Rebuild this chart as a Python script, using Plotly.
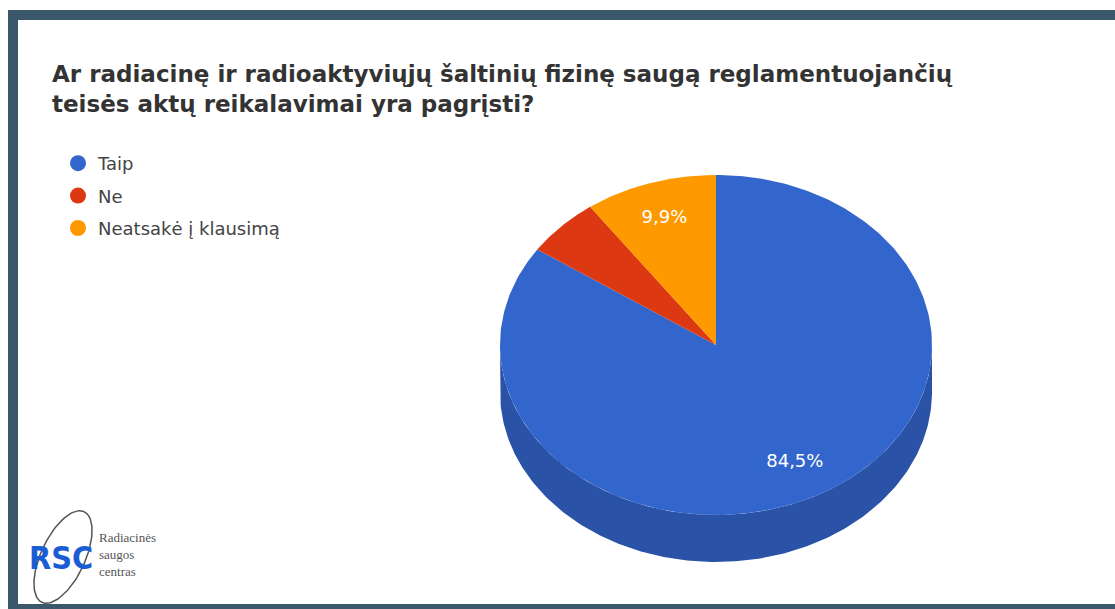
import numpy as np
import plotly.graph_objects as go

# ---------------- data ----------------
categories = ["Taip", "Ne", "Neatsakė į klausimą"]
values = [84.5, 5.6, 9.9]
show_label = [True, False, True]
title_text = ("Ar radiacinę ir radioaktyviųjų šaltinių fizinę saugą reglamentuojančių"
              "<br>teisės aktų reikalavimai yra pagrįsti?")
logo_lines = ["Radiacinės", "saugos", "centras"]

# ---------------- style ----------------
top_colors = ["#3366cc", "#dc3912", "#ff9900"]
side_colors = ["#2a52a6", "#b02e0e", "#cc7a00"]
W, H = 1115, 609
CX, CY, RX, RY, DEPTH = 716, 345, 216, 170, 47
LABEL_R = 0.78
FONT = "DejaVu Sans, Liberation Sans, Arial, sans-serif"

total = float(sum(values))
fracs = [v / total for v in values]
starts = np.concatenate([[0.0], np.cumsum(fracs)[:-1]]) * 360.0
ends = np.cumsum(fracs) * 360.0


def pt(theta_deg, dy=0.0):
    t = np.radians(theta_deg)
    return CX + RX * np.sin(t), CY - RY * np.cos(t) + dy


fig = go.Figure()

# side walls (visible part: 90..270 deg, clockwise from top)
for i in range(len(values)):
    lo, hi = max(starts[i], 90.0), min(ends[i], 270.0)
    if hi <= lo:
        continue
    th = np.linspace(lo, hi, 200)
    xt, yt = pt(th)
    xb, yb = pt(th[::-1], DEPTH)
    fig.add_trace(go.Scatter(
        x=np.concatenate([xt, xb, xt[:1]]), y=np.concatenate([yt, yb, yt[:1]]),
        mode="lines", fill="toself", fillcolor=side_colors[i],
        line=dict(width=0, color=side_colors[i]),
        hoverinfo="skip", showlegend=False))

# top faces
for i in range(len(values)):
    th = np.linspace(starts[i], ends[i], 300)
    xa, ya = pt(th)
    fig.add_trace(go.Scatter(
        x=np.concatenate([[CX], xa, [CX]]), y=np.concatenate([[CY], ya, [CY]]),
        mode="lines", fill="toself", fillcolor=top_colors[i],
        line=dict(width=0, color=top_colors[i]),
        hoverinfo="text", text=f"{categories[i]}: {values[i]}%".replace(".", ","),
        showlegend=False))

# slice labels
lx, ly, lt = [], [], []
for i in range(len(values)):
    if not show_label[i]:
        continue
    mid = (starts[i] + ends[i]) / 2.0
    t = np.radians(mid)
    lx.append(CX + LABEL_R * RX * np.sin(t))
    ly.append(CY - LABEL_R * RY * np.cos(t))
    lt.append(f"{fracs[i] * 100:.1f}%".replace(".", ","))
fig.add_trace(go.Scatter(x=lx, y=ly, text=lt, mode="text",
                         textfont=dict(family=FONT, size=18, color="white"),
                         hoverinfo="skip", showlegend=False))

# legend entries
for i, c in enumerate(categories):
    fig.add_trace(go.Scatter(x=[None], y=[None], mode="markers", name=c,
                             legendgroup=f"g{i}",
                             marker=dict(symbol="circle", size=20, color=top_colors[i])))

# logo ellipse (tilted)
tt = np.linspace(0, 2 * np.pi, 120)
ang = np.radians(25)
ex = 22 * np.cos(tt)
ey = 50 * np.sin(tt)
fig.add_trace(go.Scatter(
    x=63 + ex * np.cos(ang) - ey * np.sin(ang),
    y=557 + ex * np.sin(ang) + ey * np.cos(ang),
    mode="lines", line=dict(color="#555555", width=1.5),
    hoverinfo="skip", showlegend=False))

annotations = [
    dict(x=61, y=558, xref="x", yref="y", text="<b>RSC</b>", showarrow=False,
         font=dict(family="DejaVu Sans Condensed, Liberation Sans Narrow, Arial Narrow, sans-serif",
                   size=32, color="#1a5cd4")),
    dict(x=97, y=554, xref="x", yref="y", text="<br>".join(logo_lines),
         showarrow=False, xanchor="left", yanchor="middle", align="left",
         font=dict(family="Liberation Serif, serif", size=13, color="#555555")),
]

border = "#3a5869"
shapes = [
    dict(type="rect", xref="x", yref="y", x0=8, x1=W, y0=10, y1=20,
         fillcolor=border, line=dict(width=0), layer="above"),
    dict(type="rect", xref="x", yref="y", x0=8, x1=18, y0=10, y1=H,
         fillcolor=border, line=dict(width=0), layer="above"),
    dict(type="rect", xref="x", yref="y", x0=8, x1=W, y0=604, y1=H,
         fillcolor=border, line=dict(width=0), layer="above"),
]

fig.update_layout(
    width=W, height=H, margin=dict(l=0, r=0, t=0, b=0),
    paper_bgcolor="white", plot_bgcolor="white",
    xaxis=dict(range=[0, W], visible=False, fixedrange=True, domain=[0, 1]),
    yaxis=dict(range=[H, 0], visible=False, fixedrange=True, domain=[0, 1]),
    title=dict(text=title_text, x=52 / W, xanchor="left", xref="paper",
               y=1 - 82 / H, yanchor="top", yref="container",
               font=dict(family=FONT, size=23, color="#333333", weight="bold")),
    legend=dict(x=58 / W, y=1 - 145 / H, xanchor="left", yanchor="top",
                font=dict(family=FONT, size=18, color="#444444"),
                bgcolor="rgba(0,0,0,0)", itemclick=False, itemdoubleclick=False,
                tracegroupgap=6),
    showlegend=True,
    shapes=shapes, annotations=annotations,
    hovermode="closest",
)

fig.write_html("out.html", config={"displayModeBar": False},
               post_script="document.body.style.margin='0';")
